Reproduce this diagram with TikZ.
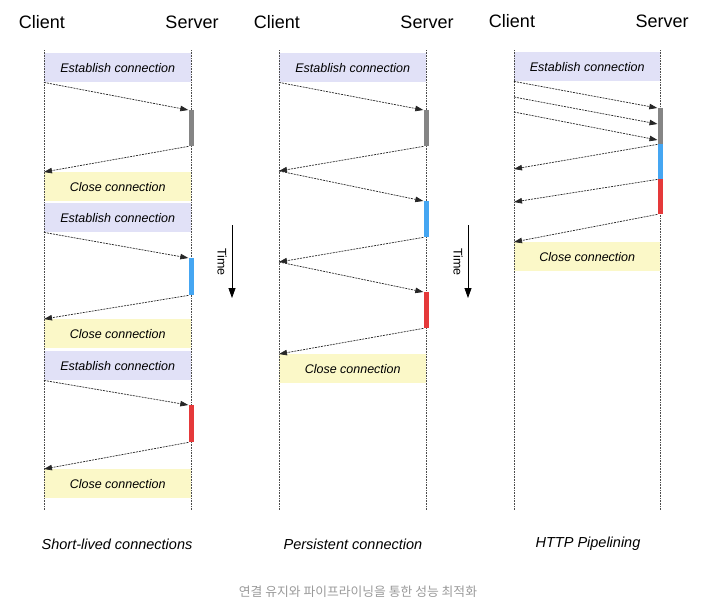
\documentclass[tikz,border=0pt]{standalone}
\usepackage{fontspec}
\setsansfont{Liberation Sans}
\newfontfamily\krfont{Noto Sans CJK KR}
\usetikzlibrary{arrows.meta}
\definecolor{estfill}{HTML}{E1E1F7}
\definecolor{closefill}{HTML}{FBF8C8}
\definecolor{bargray}{HTML}{858585}
\definecolor{barblue}{HTML}{45A6F2}
\definecolor{barred}{HTML}{E5393A}
\definecolor{capgray}{HTML}{9A9A9A}

\begin{document}
\begin{tikzpicture}[x=1pt,y=-1pt,
    title/.style={font=\sffamily\fontsize{18}{20}\selectfont},
    phase/.style={minimum width=147pt, minimum height=29pt, inner sep=0pt,
      anchor=north west, font=\sffamily\itshape\fontsize{12.5}{14}\selectfont},
    est/.style={phase, fill=estfill},
    cls/.style={phase, fill=closefill},
    bar/.style={minimum width=5pt, inner sep=0pt, anchor=north},
    lifeline/.style={densely dotted, black!70, line width=0.6pt},
    msg/.style={dash pattern=on 2pt off 1pt, black!85, line width=0.7pt,
      -{Triangle[length=8pt,width=5.5pt]}},
    timearrow/.style={black, line width=0.8pt, -{Triangle[length=10pt,width=7pt]}},
    timelabel/.style={rotate=-90, font=\sffamily\fontsize{12.5}{14}\selectfont},
    caption/.style={font=\sffamily\itshape\fontsize{14.5}{16}\selectfont}]
  \useasboundingbox (0,0) rectangle (706,614);

  \node[title] (client1) at (42,22) {Client};
  \node[title] (server1) at (192,22) {Server};
  \node[est] (est1a) at (44,53) {Establish connection};
  \node[cls] (close1a) at (44,172) {Close connection};
  \node[est] (est1b) at (44,203) {Establish connection};
  \node[cls] (close1b) at (44,319) {Close connection};
  \node[est] (est1c) at (44,351) {Establish connection};
  \node[cls] (close1c) at (44,469) {Close connection};
  \draw[lifeline] (44,50) -- (44,510);
  \draw[lifeline] (191,50) -- (191,510);
  \node[bar, fill=bargray, minimum height=36pt] (gray1) at (191,110) {};
  \node[bar, fill=barblue, minimum height=37pt] (blue1) at (191,258) {};
  \node[bar, fill=barred, minimum height=37pt] (red1) at (191,405) {};
  \draw[msg] (est1a.south west) -- (gray1.north west);
  \draw[msg] (gray1.south west) -- (close1a.north west);
  \draw[msg] (est1b.south west) -- (blue1.north west);
  \draw[msg] (blue1.south west) -- (close1b.north west);
  \draw[msg] (est1c.south west) -- (red1.north west);
  \draw[msg] (red1.south west) -- (close1c.north west);
  \node[caption] (cap1) at (117,544) {Short-lived connections};

  \draw[timearrow] (232,225) -- (232,298);
  \node[timelabel] (time1) at (222,262) {Time};

  \node[title] (client2) at (277,22) {Client};
  \node[title] (server2) at (427,22) {Server};
  \node[est] (est2) at (279,53) {Establish connection};
  \node[cls] (close2) at (279,354) {Close connection};
  \draw[lifeline] (279,50) -- (279,510);
  \draw[lifeline] (426,50) -- (426,510);
  \node[bar, fill=bargray, minimum height=36pt] (gray2) at (426,110) {};
  \node[bar, fill=barblue, minimum height=36pt] (blue2) at (426,201) {};
  \node[bar, fill=barred, minimum height=36pt] (red2) at (426,292) {};
  \coordinate (turn2a) at (279,171);
  \coordinate (turn2b) at (279,262);
  \draw[msg] (est2.south west) -- (gray2.north west);
  \draw[msg] (gray2.south west) -- (turn2a);
  \draw[msg] (turn2a) -- (blue2.north west);
  \draw[msg] (blue2.south west) -- (turn2b);
  \draw[msg] (turn2b) -- (red2.north west);
  \draw[msg] (red2.south west) -- (close2.north west);
  \node[caption] (cap2) at (353,544) {Persistent connection};

  \draw[timearrow] (468,225) -- (468,298);
  \node[timelabel] (time2) at (458,262) {Time};

  \node[title] (client3) at (512,21) {Client};
  \node[title] (server3) at (662,21) {Server};
  \node[est, minimum width=146pt] (est3) at (514,52) {Establish connection};
  \node[cls, minimum width=146pt] (close3) at (514,242) {Close connection};
  \draw[lifeline] (514,50) -- (514,510);
  \draw[lifeline] (660,50) -- (660,510);
  \node[bar, fill=bargray, minimum height=36pt] (gray3) at (660,108) {};
  \node[bar, fill=barblue, minimum height=35pt] (blue3) at (660,144) {};
  \node[bar, fill=barred, minimum height=35pt] (red3) at (660,179) {};
  \coordinate (req3b) at (514,97);
  \coordinate (req3c) at (514,112);
  \coordinate (hit3b) at (657.5,124);
  \coordinate (hit3c) at (657.5,140);
  \coordinate (back3a) at (514,169);
  \coordinate (back3b) at (514,202);
  \draw[msg] (est3.south west) -- (gray3.north west);
  \draw[msg] (req3b) -- (hit3b);
  \draw[msg] (req3c) -- (hit3c);
  \draw[msg] (gray3.south west) -- (back3a);
  \draw[msg] (blue3.south west) -- (back3b);
  \draw[msg] (red3.south west) -- (close3.north west);
  \node[caption] (cap3) at (588,544) {HTTP Pipelining};

  \node[font=\krfont\fontsize{12.8}{14}\selectfont, text=capgray] (figcap) at (358,592)
    {연결 유지와 파이프라이닝을 통한 성능 최적화};
\end{tikzpicture}
\end{document}
